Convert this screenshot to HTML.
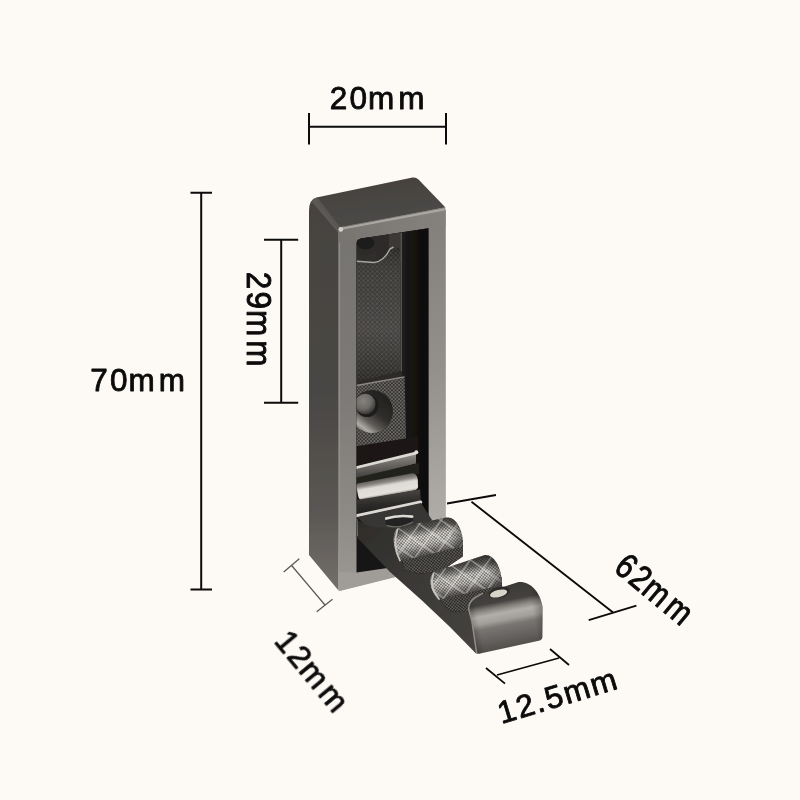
<!DOCTYPE html>
<html>
<head>
<meta charset="utf-8">
<title>Folding hook dimensions</title>
<style>
  html, body { margin: 0; padding: 0; background: #fdfaf5; }
  body { width: 800px; height: 800px; overflow: hidden; font-family: "Liberation Sans", sans-serif; }
  svg { display: block; }
  .dim { stroke: #0a0a0a; stroke-width: 2; fill: none; stroke-linecap: butt; }
  .dimg { stroke: #5a5856; stroke-width: 1.3; fill: none; }
  .lbl { font-family: "Liberation Sans", sans-serif; font-size: 31.5px; fill: #0a0a0a; letter-spacing: 2.6px; stroke:#0a0a0a; stroke-width:0.85px; stroke-linejoin: round; }
</style>
</head>
<body>
<svg width="800" height="800" viewBox="0 0 800 800">
  <defs>
    <!-- gradients -->
    <linearGradient id="gSide" x1="0" y1="0" x2="0" y2="1">
      <stop offset="0" stop-color="#464341"/>
      <stop offset="0.5" stop-color="#4a4744"/>
      <stop offset="0.8" stop-color="#5a5754"/>
      <stop offset="1" stop-color="#726f6b"/>
    </linearGradient>
    <linearGradient id="gTop" x1="0" y1="0" x2="0.3" y2="1">
      <stop offset="0" stop-color="#43403e"/>
      <stop offset="1" stop-color="#4d4a47"/>
    </linearGradient>
    <linearGradient id="gFrontL" x1="0" y1="0" x2="0" y2="1">
      <stop offset="0" stop-color="#757270"/>
      <stop offset="0.5" stop-color="#7d7a77"/>
      <stop offset="0.8" stop-color="#8d8a86"/>
      <stop offset="1" stop-color="#9c9995"/>
    </linearGradient>
    <linearGradient id="gFrontR" x1="0" y1="0" x2="0" y2="1">
      <stop offset="0" stop-color="#827f7b"/>
      <stop offset="0.45" stop-color="#93908c"/>
      <stop offset="0.8" stop-color="#aba8a3"/>
      <stop offset="1" stop-color="#b4b1ac"/>
    </linearGradient>
    <linearGradient id="gEdgeTL" gradientUnits="userSpaceOnUse" x1="316" y1="222" x2="334" y2="208">
      <stop offset="0" stop-color="#4a4745"/>
      <stop offset="0.5" stop-color="#5d5a57"/>
      <stop offset="1" stop-color="#4c4946"/>
    </linearGradient>
    <linearGradient id="gBarT" x1="0" y1="0" x2="1" y2="0">
      <stop offset="0" stop-color="#787571"/>
      <stop offset="1" stop-color="#85827e"/>
    </linearGradient>
    <clipPath id="clipOpen"><path d="M356.5,244 Q356.5,239.4 361,238.6 L428.5,228.2 L428.5,562 L356.5,572.5 Z"/></clipPath>
    <pattern id="pInsert" width="4.6" height="4.6" patternUnits="userSpaceOnUse">
      <path d="M0,0 L4.6,4.6 M4.6,0 L0,4.6" stroke="#66635f" stroke-width="0.9" opacity="0.5"/>
    </pattern>
    <pattern id="pKnurlS" width="3.5" height="3.5" patternUnits="userSpaceOnUse">
      <path d="M0,0 L3.5,3.5 M3.5,0 L0,3.5" stroke="#94918d" stroke-width="0.85" opacity="0.6"/>
    </pattern>
    <linearGradient id="gInsertSheen" x1="0" y1="0" x2="0" y2="1">
      <stop offset="0" stop-color="#000" stop-opacity="0.15"/>
      <stop offset="0.3" stop-color="#fff" stop-opacity="0.06"/>
      <stop offset="0.6" stop-color="#fff" stop-opacity="0.1"/>
      <stop offset="1" stop-color="#000" stop-opacity="0.15"/>
    </linearGradient>
    <linearGradient id="gWallR" x1="0" y1="0" x2="1" y2="0">
      <stop offset="0" stop-color="#201f1d"/>
      <stop offset="0.3" stop-color="#141312"/>
      <stop offset="1" stop-color="#0f0e0e"/>
    </linearGradient>
    <linearGradient id="gCone" x1="0.9" y1="0.1" x2="0.25" y2="0.95">
      <stop offset="0" stop-color="#1f1e1c"/>
      <stop offset="0.5" stop-color="#302e2c"/>
      <stop offset="0.75" stop-color="#605d5a"/>
      <stop offset="0.92" stop-color="#aeaba6"/>
      <stop offset="1" stop-color="#8a8783"/>
    </linearGradient>
    <radialGradient id="gHole" cx="0.4" cy="0.35" r="0.65">
      <stop offset="0" stop-color="#85827e"/>
      <stop offset="0.6" stop-color="#6d6a67"/>
      <stop offset="1" stop-color="#3b3937"/>
    </radialGradient>
    <linearGradient id="gBracket" x1="0" y1="0" x2="0.15" y2="1">
      <stop offset="0" stop-color="#aaa7a3"/>
      <stop offset="0.5" stop-color="#6d6a67"/>
      <stop offset="1" stop-color="#3b3937"/>
    </linearGradient>
    <linearGradient id="gRoller0" gradientUnits="userSpaceOnUse" x1="386" y1="477" x2="389.5" y2="497">
      <stop offset="0" stop-color="#55524f"/>
      <stop offset="0.25" stop-color="#8d8a86"/>
      <stop offset="0.42" stop-color="#dedbd6"/>
      <stop offset="0.78" stop-color="#e4e1dc"/>
      <stop offset="0.92" stop-color="#8a8783"/>
      <stop offset="1" stop-color="#4a4745"/>
    </linearGradient>
    <linearGradient id="gBand" x1="0" y1="0" x2="0.15" y2="1">
      <stop offset="0" stop-color="#504d4a"/>
      <stop offset="0.6" stop-color="#2c2a29"/>
      <stop offset="1" stop-color="#1f1e1d"/>
    </linearGradient>
    <linearGradient id="gArmSide" gradientUnits="userSpaceOnUse" x1="360" y1="520" x2="476" y2="640">
      <stop offset="0" stop-color="#2e2c2a"/>
      <stop offset="0.5" stop-color="#3b3937"/>
      <stop offset="1" stop-color="#45423f"/>
    </linearGradient>
    <linearGradient id="gPin" x1="0" y1="0" x2="0" y2="1">
      <stop offset="0" stop-color="#8c8985"/>
      <stop offset="0.6" stop-color="#d0cdc8"/>
      <stop offset="1" stop-color="#9a9793"/>
    </linearGradient>
    <pattern id="pKnurl" width="3.2" height="3.2" patternUnits="userSpaceOnUse" patternTransform="rotate(-8)">
      <path d="M0,0 L3.2,3.2 M3.2,0 L0,3.2" stroke="#1d1c1b" stroke-width="0.7" opacity="0.6"/>
    </pattern>
    <pattern id="pKnurlBig" width="22" height="22" x="3" y="6" patternUnits="userSpaceOnUse" patternTransform="rotate(-10)">
      <path d="M0,0 L22,22 M22,0 L0,22" stroke="#f6f3ee" stroke-width="1.3" opacity="0.5"/>
    </pattern>
    <linearGradient id="gR1" gradientUnits="userSpaceOnUse" x1="424" y1="521" x2="430.5" y2="557">
      <stop offset="0" stop-color="#3d3b38"/>
      <stop offset="0.2" stop-color="#6e6b68"/>
      <stop offset="0.4" stop-color="#e2dfda"/>
      <stop offset="0.62" stop-color="#d6d3ce"/>
      <stop offset="0.82" stop-color="#85827e"/>
      <stop offset="1" stop-color="#4a4745"/>
    </linearGradient>
    <linearGradient id="gR1shade" gradientUnits="userSpaceOnUse" x1="394" y1="540" x2="463" y2="530">
      <stop offset="0" stop-color="#000" stop-opacity="0.1"/>
      <stop offset="0.2" stop-color="#000" stop-opacity="0"/>
      <stop offset="0.8" stop-color="#000" stop-opacity="0"/>
      <stop offset="1" stop-color="#000" stop-opacity="0.45"/>
    </linearGradient>
    <linearGradient id="gR2" gradientUnits="userSpaceOnUse" x1="462" y1="561" x2="468.5" y2="595">
      <stop offset="0" stop-color="#3d3b38"/>
      <stop offset="0.2" stop-color="#6a6764"/>
      <stop offset="0.42" stop-color="#dcd9d4"/>
      <stop offset="0.64" stop-color="#cfccc7"/>
      <stop offset="0.84" stop-color="#807d79"/>
      <stop offset="1" stop-color="#474442"/>
    </linearGradient>
    <linearGradient id="gR2shade" gradientUnits="userSpaceOnUse" x1="431" y1="582" x2="501" y2="568">
      <stop offset="0" stop-color="#000" stop-opacity="0.1"/>
      <stop offset="0.2" stop-color="#000" stop-opacity="0"/>
      <stop offset="0.8" stop-color="#000" stop-opacity="0"/>
      <stop offset="1" stop-color="#000" stop-opacity="0.45"/>
    </linearGradient>
    <linearGradient id="gEnd" gradientUnits="userSpaceOnUse" x1="503" y1="584" x2="515" y2="647">
      <stop offset="0" stop-color="#3a3836"/>
      <stop offset="0.26" stop-color="#454240"/>
      <stop offset="0.35" stop-color="#85827e"/>
      <stop offset="0.44" stop-color="#b2afaa"/>
      <stop offset="0.55" stop-color="#a29f9a"/>
      <stop offset="0.64" stop-color="#787572"/>
      <stop offset="0.85" stop-color="#625f5c"/>
      <stop offset="1" stop-color="#514e4b"/>
    </linearGradient>
    <linearGradient id="gEndX" gradientUnits="userSpaceOnUse" x1="469" y1="620" x2="543" y2="605">
      <stop offset="0" stop-color="#000" stop-opacity="0.25"/>
      <stop offset="0.12" stop-color="#000" stop-opacity="0"/>
      <stop offset="0.85" stop-color="#000" stop-opacity="0"/>
      <stop offset="1" stop-color="#000" stop-opacity="0.3"/>
    </linearGradient>
    <path id="r1" d="M394.2,545 C392.4,533 395.6,528 401,526.8 L446.5,517.6 C455,516.2 463,529 462.9,542.5 L461.8,546.6 L400.5,561 C397,557 395,551 394.2,545 Z"/>
    <path id="r2" d="M430.8,585 C429.4,576.5 431.8,572 437.5,570.8 L484,555.2 C492.5,553.4 501.5,566 501.6,581 L500,585.2 L440,599.4 C435,596 431.8,591 430.8,585 Z"/>
    <path id="eb" d="M468.6,609 C468.6,603 471,600 476,597 L483,593.6 L517,582.4 C528,580 540,590 542.7,607 L542.4,637 Q542.4,639.8 540,640.4 L479,653.8 Q476.8,654.2 476.5,652 L472,622 Z"/>
    <pattern id="pKnurlD" width="3.2" height="3.2" patternUnits="userSpaceOnUse" patternTransform="rotate(-8)">
      <path d="M0,0 L3.2,3.2 M3.2,0 L0,3.2" stroke="#7d7a76" stroke-width="0.8" opacity="0.6"/>
    </pattern>
    <filter id="soft" x="-5%" y="-5%" width="110%" height="110%"><feGaussianBlur stdDeviation="0.3"/></filter>
  </defs>

  <rect x="0" y="0" width="800" height="800" fill="#fdfaf5"/>

  <!-- ================= PRODUCT ================= -->
  <g id="product" filter="url(#soft)">
    <!-- left side face -->
    <path d="M309,211 Q309,199.5 316.5,197.6 L341,228 L338.5,590.5 L309,555 Z" fill="url(#gSide)"/>
    <!-- top face -->
    <path d="M316.5,197.6 L412.5,177.6 Q416,177 418.5,179.5 L445.5,207.5 L340,228 Z" fill="url(#gTop)"/>
    <!-- rounded edge between top and side -->
    <path d="M311.5,201.5 Q313.5,198.5 317.5,197.4 L341,228 L338.5,233 Z" fill="url(#gEdgeTL)"/>
    <!-- front face ring -->
    <path d="M338.5,229.5 Q338.5,227.3 341,227 L443,207.8 Q445.5,207.5 445.5,210 L445.5,562 L338.5,590.5 Z" fill="url(#gFrontL)"/>
    <path d="M339.3,232 L339.3,588" stroke="#989591" stroke-width="1.6" fill="none" opacity="0.75"/>
    <!-- right post lighter -->
    <path d="M428.5,229 L445.5,210 L445.5,562 L428.5,562 Z" fill="url(#gFrontR)"/>
    <!-- top bar -->
    <path d="M338.5,229.5 Q338.5,227.3 341,227 L443,207.8 Q445.5,207.5 445.5,210 L445.5,226 L428.5,228.2 L356.5,239.4 L338.5,243 Z" fill="url(#gBarT)"/>
    <!-- top bar highlight edge -->
    <path d="M340,229 L444.5,209.3" stroke="#aaa7a2" stroke-width="2.2" fill="none" stroke-linecap="round"/>
    <circle cx="340.8" cy="229.4" r="2.3" fill="#d2cfca"/>
    <!-- bottom bar -->
    <path d="M338.5,572 L356.5,572.5 L400,567 L400,576 L340,591 Q338.5,591 338.5,589 Z" fill="#a09d99"/>

    <!-- opening -->
    <path id="openPath" d="M356.5,244 Q356.5,239.4 361,238.6 L428.5,228.2 L428.5,562 L356.5,572.5 Z" fill="#141312"/>

    <!-- ===== interior ===== -->
    <g clip-path="url(#clipOpen)">
      <!-- back plate base -->
      <path d="M356.5,238 L402,231 L402,470 L356.5,480 Z" fill="#2d2b29"/>
      <!-- lighter notch band near top -->
      <path d="M389,234 L402,232 L402,262 L394,262 Q389,256 389,249 Z" fill="#3a3836"/>
      <!-- dark round bump top-left -->
      <ellipse cx="365.5" cy="243" rx="9" ry="6.5" fill="#1d1c1a"/>
      <path d="M357,252 Q366,258 376,250 L376,262 L357,262 Z" fill="#2f2d2b"/>
      <!-- insert (textured) -->
      <path d="M356.5,261.5 L374,262.8 Q384,261.5 390,249 L400,247.5 L400,371 L356.5,382 Z" fill="#302e2c"/>
      <path d="M356.5,261.5 L374,262.8 Q384,261.5 390,249 L400,247.5 L400,371 L356.5,382 Z" fill="url(#pInsert)"/>
      <!-- soft sheen on insert -->
      <path d="M356.5,261.5 L374,262.8 Q384,261.5 390,249 L400,247.5 L400,371 L356.5,382 Z" fill="url(#gInsertSheen)"/>
      <!-- insert top edge highlight -->
      <path d="M356.8,261.3 L374,262.6 Q384,261.3 390,249 L393.5,247" stroke="#a9a6a2" stroke-width="1.5" fill="none"/>
      <!-- step edge line at right of insert -->
      <path d="M401.4,233 L401.4,371" stroke="#565350" stroke-width="1.6" fill="none"/>
      <!-- inner right wall -->
      <path d="M402,230 L428.5,227 L428.5,562 L402,562 Z" fill="url(#gWallR)"/>

      <!-- screw block -->
      <path d="M356.5,385.5 L404.5,376.8 L406,438.5 L356.5,446.3 Z" fill="#33312f"/>
      <path d="M356.5,385.5 L404.5,376.8 L406,438.5 L356.5,446.3 Z" fill="url(#pKnurlS)"/>
      <path d="M356.5,385.5 L404.5,376.8" stroke="#8d8a86" stroke-width="1.3" fill="none"/>
      <!-- countersink -->
      <ellipse cx="372" cy="411.5" rx="21" ry="21.5" fill="url(#gCone)"/>
      <ellipse cx="367" cy="405.5" rx="11.5" ry="11.5" fill="#1d1c1b"/>
      <ellipse cx="365.3" cy="404" rx="10.3" ry="10.3" fill="url(#gHole)"/>
      <!-- dark gap under block -->
      <path d="M356.5,446.3 L406,438.5 L418,436 L418,452 L356.5,467 Z" fill="#1a1918"/>

      <!-- hinge bracket -->
      <path d="M355,467 L416,452.2 L416,463.5 L355,479 Z" fill="url(#gBracket)"/>
      <path d="M355.5,467.8 L415.5,453.2" stroke="#dcd9d4" stroke-width="2.8" fill="none" stroke-linecap="round"/>
      <circle cx="416.3" cy="452.2" r="2" fill="#e2dfda"/>
      <!-- dark gap -->
      <path d="M355,478 L419,463 L419,474 L355,485 Z" fill="#23211f"/>
      <!-- hinge roller -->
      <path d="M357.5,483.5 L412,473.2 Q417.2,473 417.8,480 L418,486.5 Q418,489.5 414,490.5 L362,500 Q359,500.3 358.2,496 L356.5,487 Q356.3,484 357.5,483.5 Z" fill="url(#gRoller0)"/>
      <!-- band below roller -->
      <path d="M356.5,500 L420,489.5 L421,503 L357,516 Z" fill="url(#gBand)"/>
      <!-- arm plate top edge -->
      <path d="M357.5,515.6 L420.5,502.2" stroke="#dcd9d4" stroke-width="3.4" fill="none" stroke-linecap="round"/>
    </g>

    <!-- ===== arm (folded-out hook) ===== -->
    <g id="arm">
      <!-- arm top plate near hinge -->
      <path d="M357,517 L421,503 L432,520 L400,545 L372,532 Z" fill="#383634"/>
      <!-- side face of arm (dark) -->
      <path d="M356.5,520 L372,527 L400,528 L440,560 L480,596 L472,622 L476.7,654.2 L450,627 L422.5,601 L389.5,571.5 L356.5,537 Z" fill="url(#gArmSide)"/>
      <!-- left edge highlight of arm -->
      <path d="M357,519 L357.5,536" stroke="#6b6865" stroke-width="1.2" fill="none"/>
      <!-- pin -->
      <path d="M385.5,518.5 L386,525.5 Q399,530.5 413,522.5 L412.8,516 Z" fill="#232120"/>
      <path d="M386.5,525.3 Q399,529.6 413,521.8" stroke="#6b6865" stroke-width="1.4" fill="none"/>
      <path d="M386.2,518.6 Q398,514.6 412.2,516.6" stroke="#dedbd6" stroke-width="2.6" fill="none" stroke-linecap="round"/>

      <!-- roller 1 shadow/underside -->
      <path id="r1u" d="M399,548 L462.8,540 L462.6,556.5 L440,572 L418,573.5 L404.6,570 Z"/>
      <use href="#r1u" fill="#2b2927"/>
      <use href="#r1u" fill="url(#pKnurlD)"/>
      <!-- roller 1 -->
      <use href="#r1" fill="url(#gR1)"/>
      <use href="#r1" fill="url(#pKnurl)"/>
      <use href="#r1" fill="url(#pKnurlBig)"/>
      <use href="#r1" fill="url(#gR1shade)"/>
      <path d="M397.5,529.5 Q392,545 400,560.6" stroke="#c9c6c1" stroke-width="1.7" fill="none" stroke-linecap="round"/>

      <!-- roller 2 shadow/underside -->
      <path id="r2u" d="M437,588 L501.5,577 L502.3,592 L484,600 L468,612 L450,611.5 L440,600 Z"/>
      <use href="#r2u" fill="#2b2927"/>
      <use href="#r2u" fill="url(#pKnurlD)"/>
      <!-- roller 2 -->
      <use href="#r2" fill="url(#gR2)"/>
      <use href="#r2" fill="url(#pKnurl)"/>
      <use href="#r2" fill="url(#pKnurlBig)"/>
      <use href="#r2" fill="url(#gR2shade)"/>
      <path d="M433.5,573.5 Q428.5,587 439,599" stroke="#c9c6c1" stroke-width="1.7" fill="none" stroke-linecap="round"/>

      <!-- end block -->
      <use href="#eb" fill="url(#gEnd)"/>
      <use href="#eb" fill="url(#gEndX)"/>
      <path d="M476.6,653 L472,622 L468.7,609 C468.7,603 471,600 476,597 L483,593.2" stroke="#8f8c88" stroke-width="1.5" fill="none" stroke-linejoin="round"/>
      <!-- screw hole on end block -->
      <ellipse cx="499.2" cy="592.4" rx="10.6" ry="5.4" fill="#2b2927" transform="rotate(-13 499.2 592.4)"/>
      <ellipse cx="498.6" cy="593.5" rx="8.8" ry="3.6" fill="#d8d4ca" transform="rotate(-13 498.6 593.4)"/>
    </g>
  </g>

  <!-- ================= DIMENSIONS ================= -->
  <g id="dims" opacity="0.995">
    <!-- 20mm -->
    <path class="dim" d="M309,126.8 H446 M309,113 V144.5 M446,113 V144.5"/>
    <text class="lbl" x="378.5" y="109.3" text-anchor="middle" dx="0 -0.4 -1.8 1.6">20mm</text>

    <!-- 70mm -->
    <path class="dim" d="M201.2,192.8 V589.5 M190.5,192.8 H212 M190.5,589.5 H212"/>
    <text class="lbl" x="139" y="391.2" text-anchor="middle" dx="0 -0.4 -1.8 1.6">70mm</text>

    <!-- 29mm -->
    <path class="dim" d="M281.2,239.8 V402.8 M264,239.8 H298.2 M264,402.8 H298.2"/>
    <text class="lbl" transform="translate(246.6,320.5) rotate(90) scale(1,1.1)" x="0" y="0" text-anchor="middle" dx="0 -0.4 -1.8 1.6">29mm</text>

    <!-- 12mm -->
    <path class="dimg" d="M291.2,565 L325,605 M283.7,572 L299.3,558.7 M316.7,611.8 L332.5,599.2"/>
    <text class="lbl" transform="translate(304.5,679.1) rotate(50.2)" x="0" y="0" text-anchor="middle" dx="0 -0.4 -1.8 1.6">12mm</text>

    <!-- 62mm -->
    <path class="dim" d="M471.5,501.7 L612.8,612.2 M447,503.5 L496,495 M588.7,620.1 L636.4,605.7" style="stroke-width:1.9"/>
    <text class="lbl" transform="translate(647.6,599.2) rotate(39.8) scale(0.94,1.12)" x="0" y="0" text-anchor="middle" dx="0 -0.4 -1.8 1.6">62mm</text>

    <!-- 12.5mm -->
    <path class="dim" d="M497,675 L559,658 M486,668 L505,683.6 M550,649 L569,665" style="stroke-width:1.8"/>
    <text class="lbl" transform="translate(561,706) rotate(-16.9)" x="0" y="0" text-anchor="middle" style="letter-spacing:1.8px">12.5mm</text>
  </g>
</svg>
</body>
</html>
